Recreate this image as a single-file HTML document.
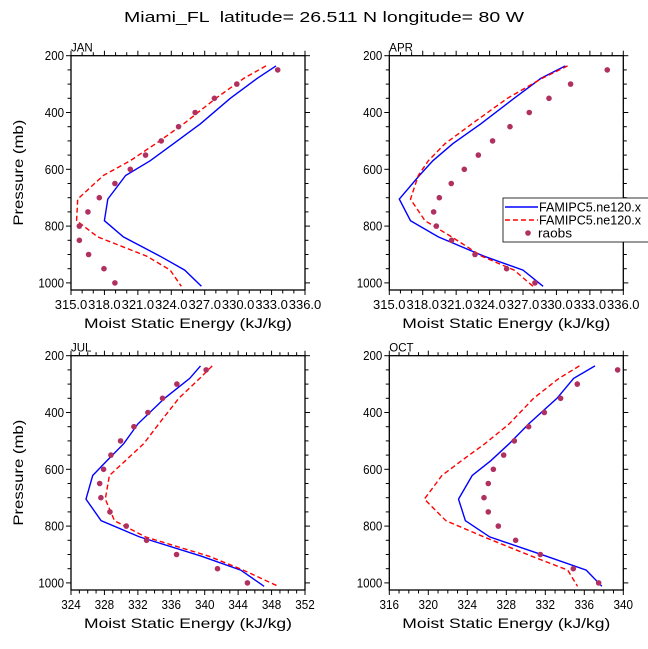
<!DOCTYPE html>
<html><head><meta charset="utf-8"><style>
body{margin:0;background:#fff}
svg{display:block;font-family:"Liberation Sans",sans-serif}
</style></head><body>
<svg id="c" width="648" height="649" viewBox="0 0 648 649">
<text x="324" y="22" text-anchor="middle" font-size="15" textLength="400" lengthAdjust="spacingAndGlyphs" style="white-space:pre">Miami_FL  latitude= 26.511 N longitude= 80 W</text>
</svg>
<script>
const modelP=[236,280,350,440,510,570,622,705,781,838,906,955,1012];
const obsP=[250,300,350,400,450,500,550,600,650,700,750,800,850,900,950,1000];
const janBlue=[333.4,331.7,329.3,326.6,324.2,322.1,319.9,318.3,318.0,319.7,323.0,325.2,326.7];
const janRed=[332.5,330.5,328.0,325.1,322.6,320.3,317.9,315.6,315.5,317.4,321.8,323.9,324.9];
const janObs=[333.55,329.88,327.87,326.14,324.65,323.10,321.69,320.32,318.94,317.54,316.52,315.75,315.75,316.58,317.96,318.94];
const aprBlue=[330.8,328.6,326.2,323.2,320.7,318.9,317.7,315.9,316.9,319.4,323.5,327.0,328.8];
const aprRed=[331.0,328.7,325.6,322.4,320.0,318.5,317.6,316.9,318.2,320.6,323.3,326.2,327.9];
const aprObs=[334.56,331.27,329.33,327.56,325.83,324.27,322.99,321.73,320.56,319.49,318.98,319.22,320.59,322.69,325.53,328.07];
const julBlue=[339.5,338.2,335.2,332.0,330.3,328.3,326.6,325.8,327.6,332.2,339.6,344.3,347.1];
const julRed=[340.9,339.4,336.9,334.5,332.7,330.5,328.6,328.1,329.2,332.9,340.5,344.6,348.8];
const julObs=[340.17,336.67,334.95,333.20,331.53,329.93,328.78,327.90,327.43,327.58,328.66,330.61,333.04,336.63,341.53,345.11];
const octBlue=[337.1,334.9,333.2,330.3,328.3,326.4,324.5,323.1,323.8,326.3,332.1,336.2,337.8];
const octRed=[335.5,333.4,330.8,328.3,325.8,323.4,321.4,319.6,321.8,325.7,330.6,334.3,335.3];
const octObs=[339.42,335.28,333.57,331.90,330.29,328.82,327.73,326.67,326.15,325.71,326.15,327.18,328.96,331.49,334.87,337.47];
const yTicks=[200,400,600,800,1000];
const ticksA=[315,318,321,324,327,330,333,336];
const labelsA=["315.0","318.0","321.0","324.0","327.0","330.0","333.0","336.0"];
const ticksJul=[324,328,332,336,340,344,348,352];
const ticksOct=[316,320,324,328,332,336,340];

const svg=document.getElementById('c');
const NS='http://www.w3.org/2000/svg';
function mk(tag,attrs,parent){const e=document.createElementNS(NS,tag);for(const k in attrs)e.setAttribute(k,attrs[k]);(parent||svg).appendChild(e);return e;}

function panel(cfg){
  const g=mk('g',{});
  
  
  const x0=cfg.x0,x1=cfg.x0+234,yTop=cfg.yTop,yB=yTop+234.3;
  const pmin=200,pmax=1025;
  const X=v=>x0+(v-cfg.xmin)/(cfg.xmax-cfg.xmin)*234;
  const Y=p=>yTop+(p-pmin)/(pmax-pmin)*234.3;
  const fr=mk('rect',{x:x0,y:yTop,width:234,height:234.3,fill:'none',stroke:'#000','stroke-width':1.3},g);
  
  
  for(let p=200;p<=1000;p+=50){
    const major=p%200===0,L=major?5:3.5,y=Y(p);
    mk('line',{x1:x0-L,x2:x0,y1:y,y2:y,stroke:'#000','stroke-width':1},g);
    mk('line',{x1:x1,x2:x1+L,y1:y,y2:y,stroke:'#000','stroke-width':1},g);
  }
  yTicks.forEach(p=>{
    const s=String(p);
    const t=mk('text',{x:x0-7,y:Y(p)+4.5,'text-anchor':'end','font-size':13,textLength:s.length*6.4,lengthAdjust:'spacingAndGlyphs'},g);
    t.textContent=s;
    
    
  });
  for(let v=cfg.xmin;v<=cfg.xmax+1e-6;v+=1){
    const major=cfg.ticks.some(t=>Math.abs(t-v)<1e-6),L=major?5:3.5,x=X(v);
    mk('line',{x1:x,x2:x,y1:yB,y2:yB+L,stroke:'#000','stroke-width':1},g);
    mk('line',{x1:x,x2:x,y1:yTop-L,y2:yTop,stroke:'#000','stroke-width':1},g);
  }
  cfg.ticks.forEach((v,i)=>{
    const s=cfg.labels?cfg.labels[i]:String(v);
    const t=mk('text',{x:X(v),y:yB+19,'text-anchor':'middle','font-size':13,textLength:s.length*6.5,lengthAdjust:'spacingAndGlyphs'},g);
    t.textContent=s;
    
    
  });
  const xl=mk('text',{x:x0+117,y:yB+38,'text-anchor':'middle','font-size':14,textLength:208,lengthAdjust:'spacingAndGlyphs'},g);
  xl.textContent='Moist Static Energy (kJ/kg)';
  
  
  const pt=mk('text',{x:x0,y:yTop-4,'font-size':11.5},g);
  pt.textContent=cfg.title;
  
  
  if(cfg.ylabel){
    const yl=mk('text',{x:0,y:0,'text-anchor':'middle','font-size':14,textLength:106,lengthAdjust:'spacingAndGlyphs',transform:`translate(23,${yTop+117}) rotate(-90)`},g);
    yl.textContent='Pressure (mb)';
    
    
  }
  const pts=a=>a.map((v,i)=>X(v).toFixed(1)+','+Y(modelP[i]).toFixed(1)).join(' ');
  const b=mk('polyline',{points:pts(cfg.blue),fill:'none',stroke:'#0000ff','stroke-width':1.4},g);
  
  
  const r=mk('polyline',{points:pts(cfg.red),fill:'none',stroke:'#ff0000','stroke-width':1.4,'stroke-dasharray':'5,3'},g);
  
  
  cfg.obs.forEach((v,i)=>{
    const c=mk('circle',{cx:X(v),cy:Y(obsP[i]),r:2.8,fill:'#b03060'},g);
    
    
  });
}
panel({name:'jan',title:'JAN',x0:71,yTop:55.7,xmin:315,xmax:336,ticks:ticksA,labels:labelsA,blue:janBlue,red:janRed,obs:janObs,ylabel:true});
panel({name:'apr',title:'APR',x0:389.3,yTop:55.7,xmin:315,xmax:336,ticks:ticksA,labels:labelsA,blue:aprBlue,red:aprRed,obs:aprObs});
panel({name:'jul',title:'JUL',x0:71,yTop:355.7,xmin:324,xmax:352,ticks:ticksJul,blue:julBlue,red:julRed,obs:julObs,ylabel:true});
panel({name:'oct',title:'OCT',x0:389.3,yTop:355.7,xmin:316,xmax:340,ticks:ticksOct,blue:octBlue,red:octRed,obs:octObs});

const lg=mk('g',{});


mk('rect',{x:503,y:198,width:150,height:44,fill:'#fff',stroke:'#000','stroke-width':0.8},lg);
const l1=mk('line',{x1:505,x2:538,y1:207,y2:207,stroke:'#0000ff','stroke-width':1.4},lg);


const l2=mk('line',{x1:505,x2:538,y1:220,y2:220,stroke:'#ff0000','stroke-width':1.4,'stroke-dasharray':'5,3'},lg);


const l3=mk('circle',{cx:528,cy:233,r:2.8,fill:'#b03060'},lg);


[['FAMIPC5.ne120.x',211.5],['FAMIPC5.ne120.x',224.5],['raobs',237.5]].forEach((d,i)=>{
  const t=mk('text',{x:i<2?539:538,y:d[1],'font-size':13,textLength:d[0].length*6.8,lengthAdjust:'spacingAndGlyphs'},lg);
  t.textContent=d[0];
  
  
});
</script>
</body></html>
